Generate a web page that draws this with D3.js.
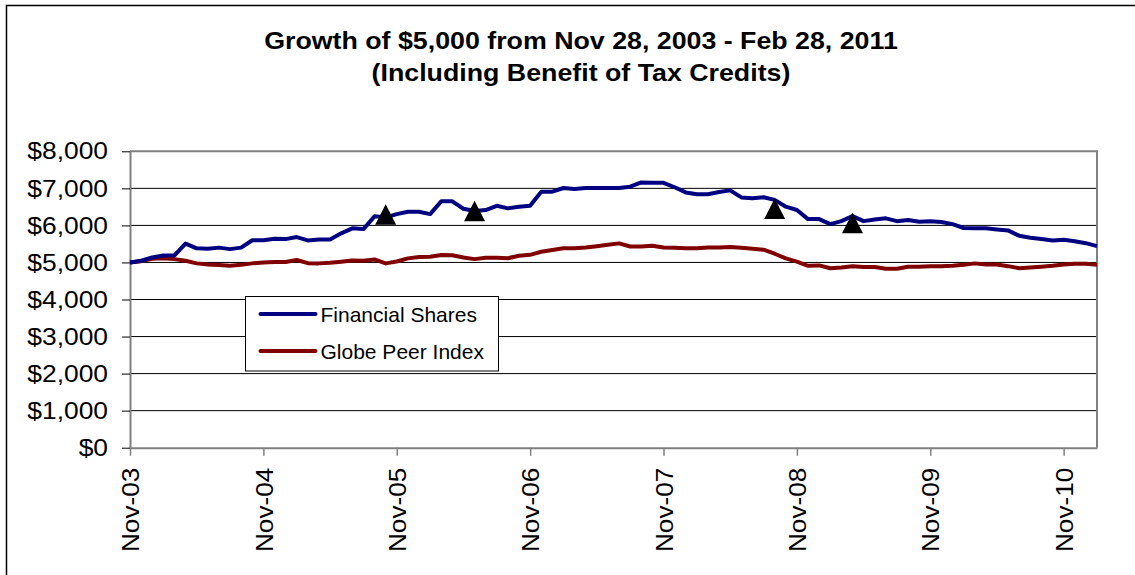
<!DOCTYPE html>
<html>
<head>
<meta charset="utf-8">
<script src="https://cdn.jsdelivr.net/npm/d3@7"></script>
<style>
  body { margin: 0; background: #fff; }
  svg { display: block; font-family: Arial, "Liberation Sans", sans-serif; }
</style>
</head>
<body>
<div id="graph"></div>
<script>
// monthly values, Nov-03 .. Feb-11 (88 points)
var financialShares = [
    5000, 5045, 5135, 5190, 5190, 5510, 5380, 5370, 5400, 5360, 5400, 5600,
    5600, 5640, 5630, 5685, 5595, 5620, 5620, 5785, 5920, 5900, 6245, 6215,
    6305, 6370, 6370, 6305, 6650, 6650, 6450, 6390, 6415, 6530, 6460, 6505,
    6530, 6910, 6910, 7010, 6980, 7010, 7010, 7010, 7010, 7045, 7160, 7150,
    7150, 7030, 6890, 6840, 6840, 6900, 6945, 6755, 6730, 6760, 6690, 6505,
    6415, 6170, 6170, 6035, 6115, 6250, 6115, 6160, 6190, 6115, 6145, 6100,
    6115, 6090, 6035, 5930, 5920, 5920, 5890, 5865, 5720, 5665, 5630, 5595,
    5610, 5570, 5520, 5440
];
var globePeerIndex = [
    5000, 5035, 5100, 5110, 5090, 5045, 4975, 4945, 4930, 4910, 4935, 4975,
    5000, 5010, 5010, 5065, 4980, 4975, 4990, 5020, 5055, 5045, 5080, 4975,
    5025, 5110, 5145, 5155, 5200, 5195, 5135, 5090, 5125, 5125, 5115, 5180,
    5205, 5290, 5335, 5385, 5385, 5405, 5440, 5475, 5515, 5430, 5430, 5450,
    5405, 5395, 5380, 5385, 5405, 5405, 5415, 5395, 5370, 5345, 5235, 5110,
    5020, 4910, 4920, 4845, 4865, 4900, 4875, 4875, 4830, 4830, 4885, 4885,
    4900, 4900, 4910, 4935, 4975, 4945, 4945, 4900, 4845, 4865, 4885, 4910,
    4945, 4965, 4965, 4935
];
// triangle markers (month index, value)
var markerIdx = [23, 31, 58, 65];
var markerVal = [6290, 6380, 6445, 6060];

var tickIdx = [0, 12, 24, 36, 48, 60, 72, 84];
var tickLabels = ['Nov-03', 'Nov-04', 'Nov-05', 'Nov-06', 'Nov-07', 'Nov-08', 'Nov-09', 'Nov-10'];
var yTicks = [0, 1000, 2000, 3000, 4000, 5000, 6000, 7000, 8000];

var seriesNames = ['Financial Shares', 'Globe Peer Index'];
var seriesColors = ['#000080', '#800000'];

var width = 1135;
var height = 575;
var plot = { left: 130, right: 1097, top: 151.3, bottom: 447.7 };

// the original text renders a bit wider than Liberation Sans
function stretch(sel, k) {
    sel.each(function() {
        var len = this.getComputedTextLength();
        d3.select(this)
            .attr('textLength', len * k)
            .attr('lengthAdjust', 'spacingAndGlyphs');
    });
}

var svg = d3.select('#graph')
    .append('svg')
    .attr('width', width)
    .attr('height', height);

// outer chart frame (right & bottom edges fall outside the picture)
svg.append('rect')
    .attr('x', 6.5).attr('y', 5.5)
    .attr('width', 1140).attr('height', 580)
    .attr('fill', '#fff')
    .attr('stroke', '#000')
    .attr('stroke-width', 1.5);

var x = d3.scaleLinear()
    .domain([0, financialShares.length - 1])
    .range([plot.left, plot.right]);

var y = d3.scaleLinear()
    .domain([0, 8000])
    .range([plot.bottom, plot.top]);

// title
svg.append('g')
    .selectAll('text')
    .data(['Growth of $5,000 from Nov 28, 2003 - Feb 28, 2011', '(Including Benefit of Tax Credits)'])
    .enter()
    .append('text')
    .attr('x', 581)
    .attr('y', (d, i) => 49 + i * 32)
    .attr('text-anchor', 'middle')
    .attr('font-weight', 'bold')
    .attr('font-size', 24)
    .text(d => d)
    .call(stretch, 1.115);

// gridlines
svg.append('g')
    .selectAll('line')
    .data(yTicks.filter(d => d > 0 && d < 8000))
    .enter()
    .append('line')
    .attr('x1', plot.left).attr('x2', plot.right)
    .attr('y1', d => y(d)).attr('y2', d => y(d))
    .attr('stroke', '#000')
    .attr('stroke-width', 1);

// plot frame (top / right)
svg.append('path')
    .attr('d', 'M' + plot.left + ',' + plot.top + 'H' + plot.right + 'V' + plot.bottom)
    .attr('fill', 'none')
    .attr('stroke', '#808080')
    .attr('stroke-width', 2);

// y axis
var yAxis = svg.append('g')
    .attr('transform', 'translate(' + plot.left + ',0)')
    .call(d3.axisLeft(y).tickValues(yTicks).tickSize(8).tickSizeOuter(0)
        .tickFormat(d => '$' + d3.format(',')(d)));
yAxis.select('.domain').attr('stroke', '#808080').attr('stroke-width', 2);
yAxis.selectAll('.tick line').attr('stroke', '#000');
yAxis.selectAll('.tick text')
    .attr('x', -22)
    .attr('font-size', 24)
    .attr('font-family', 'Arial, "Liberation Sans", sans-serif')
    .attr('fill', '#000')
    .call(stretch, 1.1);

// x axis
var xAxis = svg.append('g')
    .attr('transform', 'translate(0,' + plot.bottom + ')')
    .call(d3.axisBottom(x).tickValues(tickIdx).tickSize(8).tickSizeOuter(0)
        .tickFormat((d, i) => tickLabels[i]));
xAxis.select('.domain').attr('stroke', '#808080').attr('stroke-width', 2);
xAxis.selectAll('.tick line').attr('stroke', '#808080').attr('stroke-width', 1.5);
xAxis.selectAll('.tick text')
    .attr('transform', 'rotate(-90)')
    .attr('x', -20)
    .attr('y', 0)
    .attr('dy', '0.36em')
    .attr('text-anchor', 'end')
    .attr('font-size', 24)
    .attr('font-family', 'Arial, "Liberation Sans", sans-serif')
    .attr('fill', '#000')
    .call(stretch, 1.09);

// lines
var line = d3.line()
    .x((d, i) => x(i))
    .y(d => y(d));

svg.append('g')
    .selectAll('path')
    .data([globePeerIndex, financialShares])
    .enter()
    .append('path')
    .attr('d', line)
    .attr('fill', 'none')
    .attr('stroke', (d, i) => seriesColors[1 - i])
    .attr('stroke-width', 4)
    .attr('stroke-linejoin', 'round');

// triangle markers
svg.append('g')
    .selectAll('path')
    .data(markerIdx)
    .enter()
    .append('path')
    .attr('transform', (d, i) => 'translate(' + x(d) + ',' + y(markerVal[i]) + ')')
    .attr('d', 'M0,-10.5L10.5,10L-10.5,10Z')
    .attr('fill', '#000');

// legend
var legend = svg.append('g').attr('transform', 'translate(245.5,296.5)');
legend.append('rect')
    .attr('width', 253).attr('height', 74.5)
    .attr('fill', '#fff')
    .attr('stroke', '#000')
    .attr('stroke-width', 1);
var item = legend.selectAll('.item')
    .data(seriesNames)
    .enter()
    .append('g')
    .attr('transform', (d, i) => 'translate(0,' + (17.5 + i * 37) + ')');
item.append('line')
    .attr('x1', 15).attr('x2', 70)
    .attr('stroke', (d, i) => seriesColors[i])
    .attr('stroke-width', 4)
    .attr('stroke-linecap', 'round');
item.append('text')
    .attr('x', 75)
    .attr('dy', '0.36em')
    .attr('font-size', 21)
    .text(d => d);
</script>
</body>
</html>
